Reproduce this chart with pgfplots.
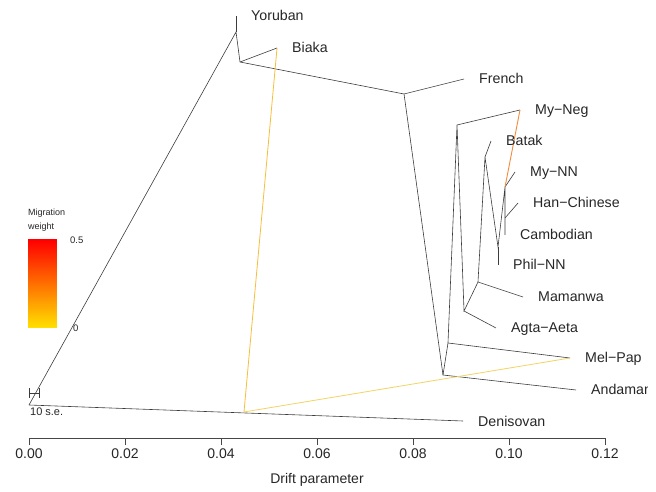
\documentclass[border=0pt]{standalone}
\usepackage{pgfplots}
\pgfplotsset{compat=1.18}
\usepackage{fontspec}
\setmainfont{Liberation Sans}
\definecolor{treecol}{RGB}{60,60,60}
\definecolor{migA}{RGB}{247,190,60}
\definecolor{migB}{RGB}{240,212,100}
\definecolor{migC}{RGB}{242,140,60}
\definecolor{gradtop}{RGB}{255,0,0}
\definecolor{gradbot}{RGB}{255,225,0}
\definecolor{axcol}{RGB}{70,70,70}
\tikzset{
  tree/.style={treecol, line width=0.6bp},
  lab/.style={anchor=base west, xshift=15bp, yshift=-5bp, inner sep=0pt, font=\fontsize{14.2bp}{16bp}\selectfont, text=black!85},
}
\begin{document}
\begin{tikzpicture}
\begin{axis}[
  scale only axis, width=576bp, height=438bp,
  xmin=0, xmax=0.12, ymin=54, ymax=492,
  clip=false,
  axis x line*=bottom, axis y line=none,
  x axis line style={axcol, line width=0.7bp},
  xtick={0,0.02,0.04,0.06,0.08,0.10,0.12},
  scaled x ticks=false,
  tick align=outside, major tick length=7bp,
  tick style={axcol, line width=0.7bp},
  xticklabel style={/pgf/number format/.cd, fixed, fixed zerofill, precision=2, assume math mode=true},
  tick label style={font=\fontsize{14bp}{16bp}\selectfont, text=black!85},
  xlabel={Drift parameter},
  xlabel style={at={(axis description cs:0.5,-0.0959)}, anchor=center, font=\fontsize{14bp}{16bp}\selectfont, text=black!85},
]
% tree edges
\addplot[tree] coordinates {(0,87) (0.04313,460) (0.04396,430) (0.07813,398) (0.08625,117) (0.11396,102)};
\addplot[tree] coordinates {(0.04313,460) (0.04313,476)};
\addplot[tree] coordinates {(0.04396,430) (0.05167,444)};
\addplot[tree] coordinates {(0.07813,398) (0.09063,413)};
\addplot[tree] coordinates {(0,87) (0.09042,71)};
\addplot[tree] coordinates {(0.08625,117) (0.08729,149) (0.08917,367) (0.09063,181) (0.09354,210) (0.09500,335) (0.09771,245) (0.09917,305) (0.09917,274) (0.09917,257)};
\addplot[tree] coordinates {(0.08729,149) (0.11271,134)};
\addplot[tree] coordinates {(0.08917,367) (0.10229,382)};
\addplot[tree] coordinates {(0.09063,181) (0.09729,164)};
\addplot[tree] coordinates {(0.09354,210) (0.10292,195)};
\addplot[tree] coordinates {(0.09500,335) (0.09625,351)};
\addplot[tree] coordinates {(0.09771,245) (0.09771,227)};
\addplot[tree] coordinates {(0.09917,305) (0.10125,320)};
\addplot[tree] coordinates {(0.09917,274) (0.10188,289)};
% migration edges
\addplot[migA, line width=0.8bp] coordinates {(0.05167,444) (0.04479,80)};
\addplot[migB, line width=0.8bp] coordinates {(0.04479,80) (0.11271,134)};
\addplot[migC, line width=0.9bp] coordinates {(0.10229,382) (0.09917,305)};
% scale bar
\addplot[treecol, line width=0.6bp, unbounded coords=jump] coordinates {(0,99) (0.00208,99) (nan,nan) (0,94) (0,104) (nan,nan) (0.00208,94) (0.00208,104)};
\node[anchor=west, inner sep=0pt, font=\fontsize{11bp}{12bp}\selectfont, text=black!85] at (axis cs:0.0002,80) {10 s.e.};
% labels
\node[lab] at (axis cs:0.04313,476) {Yoruban};
\node[lab] at (axis cs:0.05167,444) {Biaka};
\node[lab] at (axis cs:0.09063,413) {French};
\node[lab] at (axis cs:0.10229,382) {My−Neg};
\node[lab] at (axis cs:0.09625,351) {Batak};
\node[lab] at (axis cs:0.10125,320) {My−NN};
\node[lab] at (axis cs:0.10188,289) {Han−Chinese};
\node[lab] at (axis cs:0.09917,257) {Cambodian};
\node[lab] at (axis cs:0.09771,227) {Phil−NN};
\node[lab] at (axis cs:0.10292,195) {Mamanwa};
\node[lab] at (axis cs:0.09729,164) {Agta−Aeta};
\node[lab] at (axis cs:0.11271,134) {Mel−Pap};
\begin{scope}
\clip (axis cs:0.11,85) rectangle (axis cs:0.12875,120);
\node[lab] at (axis cs:0.11396,102) {Andaman};
\end{scope}
\node[lab] at (axis cs:0.09042,71) {Denisovan};
% migration weight legend
\node[anchor=west, inner sep=0pt, font=\fontsize{9bp}{10bp}\selectfont, text=black!85] at (axis cs:-0.0002,279) {Migration};
\node[anchor=west, inner sep=0pt, font=\fontsize{9bp}{10bp}\selectfont, text=black!85] at (axis cs:-0.0002,265) {weight};
\fill[top color=gradtop, bottom color=gradbot] (axis cs:-0.0002,164) rectangle (axis cs:0.00583,252);
\node[anchor=west, inner sep=0pt, font=\fontsize{9.5bp}{10bp}\selectfont, text=black!85] at (axis cs:0.00854,252) {0.5};
\node[anchor=west, inner sep=0pt, font=\fontsize{9.5bp}{10bp}\selectfont, text=black!85] at (axis cs:0.00917,164) {0};
\coordinate (bbSW) at (axis cs:-0.0060417,0);
\coordinate (bbNE) at (axis cs:0.1306250,492);
\end{axis}
\pgfresetboundingbox
\path[use as bounding box] (bbSW) rectangle (bbNE);
\end{tikzpicture}
\end{document}
